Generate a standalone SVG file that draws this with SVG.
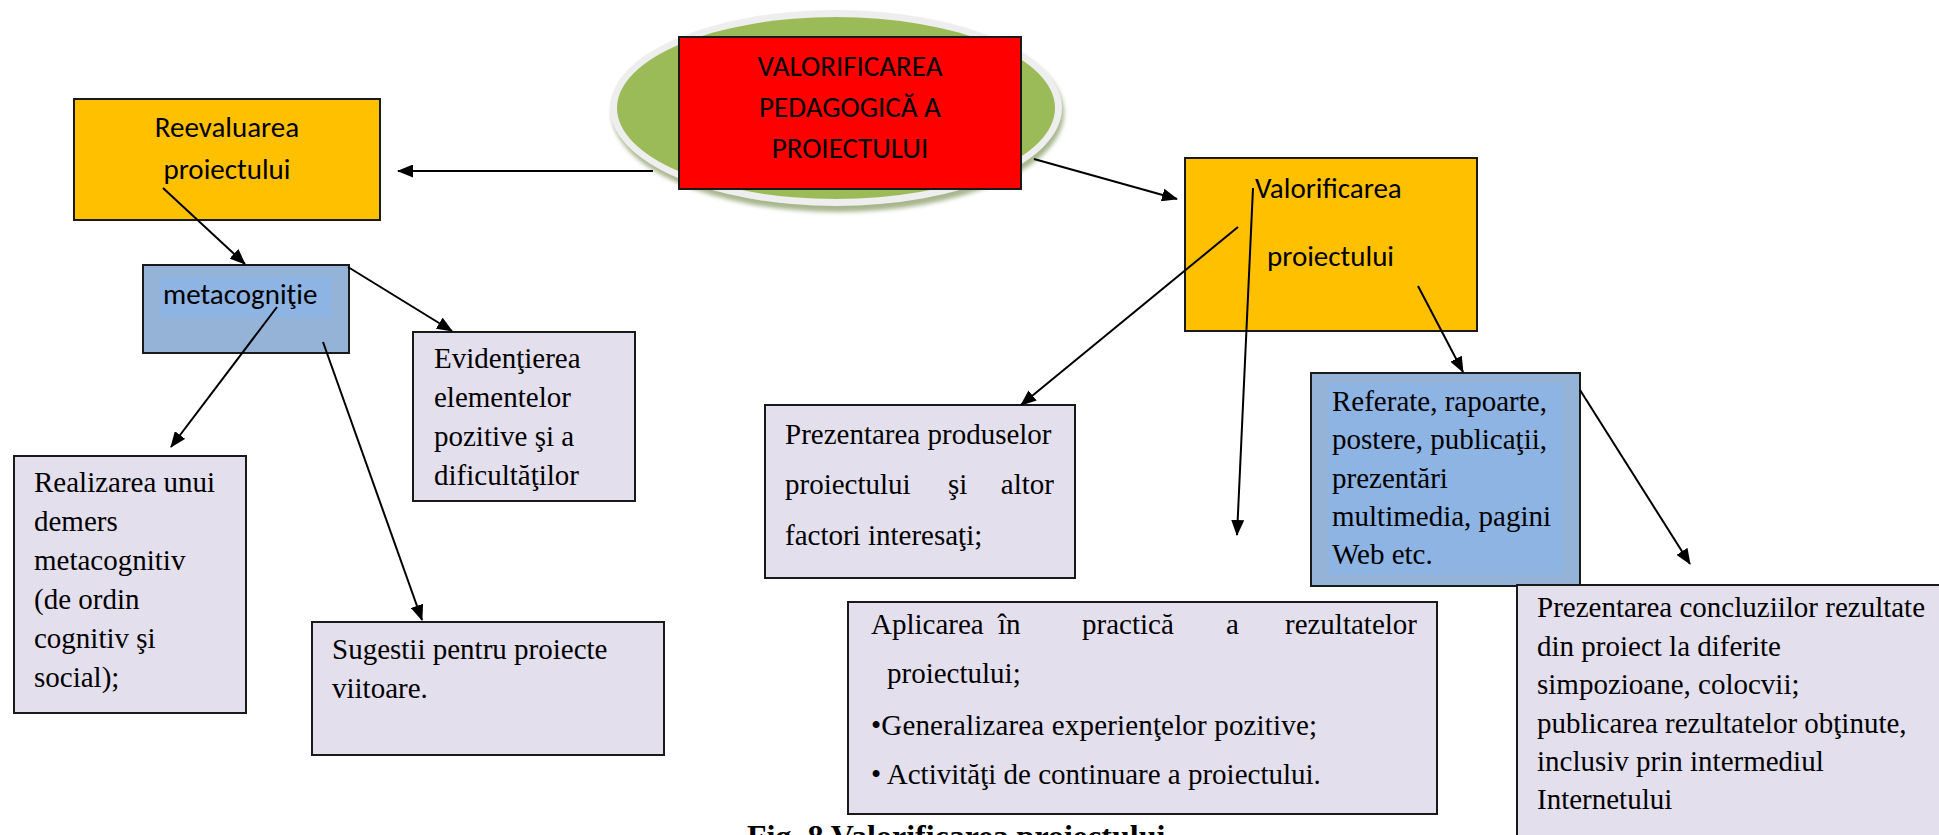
<svg xmlns="http://www.w3.org/2000/svg" width="1939" height="835" viewBox="0 0 1939 835">
<style>
.box{stroke:#1a1a1a;stroke-width:2}
.yellow{fill:#FFC000}
.blue{fill:#95B3D7}
.hl{fill:#8DB4E2}
.lav{fill:#E4DFEC}
.red{fill:#FF0000}
.cal{font-family:Carlito,Lato,"Open Sans",sans-serif;font-size:29px;fill:#000}
.tnr{font-family:"Liberation Serif","Times New Roman",serif;font-size:29px;fill:#000}
.cap{font-family:"Liberation Serif","Times New Roman",serif;font-size:32px;font-weight:bold;fill:#000}
.conn line{stroke:#000;stroke-width:2;fill:none;marker-end:url(#arr)}
</style>
<defs>
<marker id="arr" markerUnits="userSpaceOnUse" markerWidth="16" markerHeight="13" refX="15" refY="6.5" orient="auto">
<path d="M0,0 L16,6.5 L0,13 z" fill="#000"/>
</marker>
<filter id="blur" x="-10%" y="-10%" width="120%" height="130%"><feGaussianBlur stdDeviation="2"/></filter>
</defs>
<rect width="1939" height="835" fill="#fff"/>

<g id="center">
<ellipse cx="838" cy="113" rx="226" ry="99" fill="#A7B68E" filter="url(#blur)"/>
<ellipse cx="836" cy="108" rx="226" ry="98" fill="#EEEEEE"/>
<ellipse cx="836" cy="108" rx="219" ry="91" fill="#9BBB59"/>
<rect class="box red" x="679" y="37" width="342" height="152"/>
<text class="cal" text-anchor="middle" x="850" y="76">VALORIFICAREA</text>
<text class="cal" text-anchor="middle" x="850" y="117">PEDAGOGICĂ A</text>
<text class="cal" text-anchor="middle" x="850" y="158">PROIECTULUI</text>
</g>

<g id="reevaluarea">
<rect class="box yellow" x="74" y="99" width="306" height="121"/>
<text class="cal" text-anchor="middle" x="227" y="137">Reevaluarea</text>
<text class="cal" text-anchor="middle" x="227" y="179">proiectului</text>
</g>

<g id="metacognitie">
<rect class="box blue" x="143" y="265" width="206" height="88"/>
<rect class="hl" x="160" y="277" width="172" height="41"/>
<text class="cal" x="163" y="304">metacogniţie</text>
</g>

<g id="evidentierea">
<rect class="box lav" x="413" y="332" width="222" height="169"/>
<text class="tnr" x="434" y="368">Evidenţierea</text>
<text class="tnr" x="434" y="407">elementelor</text>
<text class="tnr" x="434" y="446">pozitive şi a</text>
<text class="tnr" x="434" y="485">dificultăţilor</text>
</g>

<g id="realizarea">
<rect class="box lav" x="14" y="456" width="232" height="257"/>
<text class="tnr" x="34" y="492">Realizarea unui</text>
<text class="tnr" x="34" y="531">demers</text>
<text class="tnr" x="34" y="570">metacognitiv</text>
<text class="tnr" x="34" y="609">(de ordin</text>
<text class="tnr" x="34" y="648">cognitiv şi</text>
<text class="tnr" x="34" y="687">social);</text>
</g>

<g id="sugestii">
<rect class="box lav" x="312" y="622" width="352" height="133"/>
<text class="tnr" x="332" y="659">Sugestii pentru proiecte</text>
<text class="tnr" x="332" y="698">viitoare.</text>
</g>

<g id="valorificarea">
<rect class="box yellow" x="1185" y="158" width="292" height="173"/>
<text class="cal" x="1255" y="198">Valorificarea</text>
<text class="cal" x="1267" y="266">proiectului</text>
</g>

<g id="produse">
<rect class="box lav" x="765" y="405" width="310" height="173"/>
<text class="tnr" x="785" y="444">Prezentarea produselor</text>
<text class="tnr" x="785" y="494">proiectului</text>
<text class="tnr" x="948" y="494">şi</text>
<text class="tnr" x="1054" y="494" text-anchor="end">altor</text>
<text class="tnr" x="785" y="545">factori interesaţi;</text>
</g>

<g id="referate">
<rect class="box blue" x="1311" y="373" width="269" height="213"/>
<rect class="hl" x="1328" y="383" width="235" height="192"/>
<text class="tnr" x="1332" y="411">Referate, rapoarte,</text>
<text class="tnr" x="1332" y="449">postere, publicaţii,</text>
<text class="tnr" x="1332" y="488">prezentări</text>
<text class="tnr" x="1332" y="526">multimedia, pagini</text>
<text class="tnr" x="1332" y="564">Web etc.</text>
</g>

<g id="aplicarea">
<rect class="box lav" x="848" y="602" width="589" height="212"/>
<text class="tnr" x="871" y="634">Aplicarea</text>
<text class="tnr" x="998" y="634">în</text>
<text class="tnr" x="1082" y="634">practică</text>
<text class="tnr" x="1226" y="634">a</text>
<text class="tnr" x="1417" y="634" text-anchor="end">rezultatelor</text>
<text class="tnr" x="887" y="683">proiectului;</text>
<text class="tnr" x="871" y="735" textLength="446" lengthAdjust="spacing">•Generalizarea experienţelor pozitive;</text>
<text class="tnr" x="871" y="784">• Activităţi de continuare a proiectului.</text>
</g>

<g id="concluzii">
<rect class="box lav" x="1517" y="585" width="440" height="270"/>
<text class="tnr" x="1537" y="617">Prezentarea concluziilor rezultate</text>
<text class="tnr" x="1537" y="656">din proiect la diferite</text>
<text class="tnr" x="1537" y="694">simpozioane, colocvii;</text>
<text class="tnr" x="1537" y="733">publicarea rezultatelor obţinute,</text>
<text class="tnr" x="1537" y="771">inclusiv prin intermediul</text>
<text class="tnr" x="1537" y="809">Internetului</text>
</g>

<text class="cap" x="747" y="847">Fig. 8 Valorificarea proiectului</text>

<g id="connectors" class="conn">
<line x1="653" y1="171" x2="398" y2="171"/>
<line x1="163" y1="188" x2="245" y2="264"/>
<line x1="348" y1="267" x2="452" y2="331"/>
<line x1="277" y1="307" x2="171" y2="447"/>
<line x1="323" y1="342" x2="422" y2="620"/>
<line x1="1034" y1="159" x2="1177" y2="199"/>
<line x1="1253" y1="188" x2="1237" y2="535"/>
<line x1="1238" y1="227" x2="1021" y2="405"/>
<line x1="1418" y1="286" x2="1463" y2="372"/>
<line x1="1580" y1="390" x2="1690" y2="564"/>
</g>
</svg>
